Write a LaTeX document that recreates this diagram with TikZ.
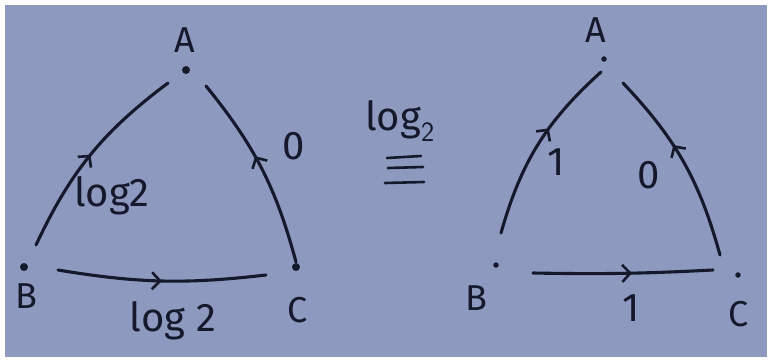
\documentclass[tikz,border=0pt]{standalone}
\usepackage{fontspec}
\setmainfont{Fira Sans}
\usetikzlibrary{arrows.meta,decorations.markings}
\definecolor{paper}{RGB}{141,153,190}
\definecolor{ink}{RGB}{22,24,44}
\tikzset{
  x=1pt,y=-1pt,
  pen/.style={draw=ink,line width=3.1pt,line cap=round},
  midarrow/.style={pen,postaction={decorate},decoration={markings,
    mark=at position #1 with {\arrow[ink,line width=2.6pt]{Straight Barb[length=8pt,width=17pt]}}}},
  midarrow/.default=0.5,
  lbl/.style={text=ink,font=\fontsize{36}{36}\selectfont,inner sep=0pt},
  wlbl/.style={text=ink,font=\fontsize{40}{40}\selectfont,inner sep=0pt},
  bigdot/.style={circle,fill=ink,inner sep=0pt,minimum size=8pt},
  smalldot/.style={circle,fill=ink,inner sep=0pt,minimum size=5.5pt},
}
\begin{document}
\begin{tikzpicture}
\useasboundingbox (0,0) rectangle (772,362);
\fill[white] (0,0) rectangle (772,362);
\fill[paper] (5,5) rectangle (767,357);
% ---------- left triangle ----------
\node[bigdot] (A1) at (186,70) {};
\node[bigdot] (B1) at (24,267) {};
\node[bigdot] (C1) at (296,267) {};
\node[lbl] (lA1) at (185,40) {A};
\node[lbl] (lB1) at (26,296) {B};
\node[lbl] (lC1) at (298,310) {C};
\coordinate (B1a) at (36,245);
\coordinate (A1b) at (168,83);
\coordinate (C1a) at (296,262);
\coordinate (A1c) at (206,86);
\coordinate (B1c) at (58,270);
\coordinate (C1b) at (266,275);
\draw[midarrow=0.5] (B1a) to[bend left=14] (A1b);
\draw[midarrow=0.57] (C1a) to[bend right=12] (A1c);
\draw[midarrow=0.5] (B1c) to[bend right=8] (C1b);
\node[wlbl] (e1) at (112,196) {log2};
\node[wlbl] (e2) at (294,146) {0};
\node[wlbl] (e3) at (173,321) {log 2};
% ---------- middle ----------
\node[wlbl] (mid) at (400,121) {log$_{\mathsf{2}}$};
\draw[pen,line width=2.6pt] (387,158) -- (421,156);
\draw[pen,line width=2.6pt] (388,168) -- (423,167);
\draw[pen,line width=2.6pt] (385,183) -- (424,182);
% ---------- right triangle ----------
\node[smalldot] (A2) at (604,59) {};
\node[smalldot] (B2) at (496,265) {};
\node[smalldot] (C2) at (738,275) {};
\node[lbl] (lA2) at (596,30) {A};
\node[lbl] (lB2) at (476,298) {B};
\node[lbl] (lC2) at (739,314) {C};
\coordinate (B2a) at (501,233);
\coordinate (A2b) at (601,72);
\coordinate (C2a) at (720,255);
\coordinate (A2c) at (623,83);
\coordinate (B2c) at (533,273);
\coordinate (C2b) at (713,270);
\draw[midarrow=0.6] (B2a) to[bend left=16] (A2b);
\draw[midarrow=0.6] (C2a) to[bend right=14] (A2c);
\draw[midarrow=0.55] (B2c) to[bend right=2] (C2b);
\node[wlbl] (f1) at (556,162) {1};
\node[wlbl] (f2) at (649,175) {0};
\node[wlbl] (f3) at (631,308) {1};
\end{tikzpicture}
\end{document}
